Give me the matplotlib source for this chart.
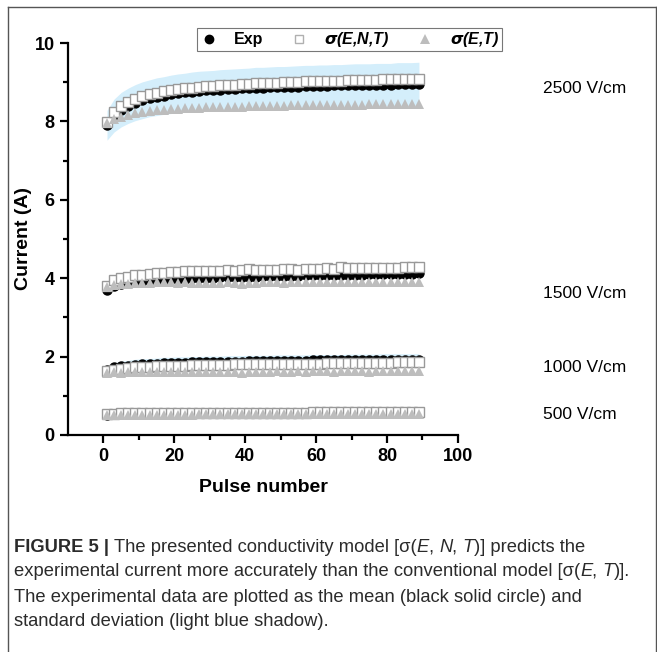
import numpy as np
import matplotlib.pyplot as plt
from matplotlib.lines import Line2D

# Pulse numbers (every second pulse is plotted)
pulses = np.arange(1, 90, 2)

# 2500 V/cm
exp_2500 = [7.90, 8.15, 8.30, 8.40, 8.48, 8.54, 8.59, 8.63, 8.66, 8.69, 8.72, 8.74, 8.76, 8.78, 8.79,
            8.80, 8.81, 8.82, 8.83, 8.84, 8.85, 8.86, 8.86, 8.87, 8.88, 8.88, 8.89, 8.89, 8.90, 8.90,
            8.91, 8.91, 8.92, 8.92, 8.92, 8.93, 8.93, 8.93, 8.94, 8.94, 8.94, 8.95, 8.95, 8.95, 8.96]
std_2500 = [0.38, 0.42, 0.44, 0.45, 0.46, 0.47, 0.47, 0.48, 0.48, 0.49, 0.49, 0.49, 0.50, 0.50, 0.50,
            0.50, 0.51, 0.51, 0.51, 0.51, 0.51, 0.52, 0.52, 0.52, 0.52, 0.52, 0.52, 0.53, 0.53, 0.53,
            0.53, 0.53, 0.53, 0.53, 0.54, 0.54, 0.54, 0.54, 0.54, 0.54, 0.54, 0.55, 0.55, 0.55, 0.55]
ent_2500 = [7.98, 8.25, 8.40, 8.50, 8.58, 8.64, 8.69, 8.73, 8.77, 8.80, 8.82, 8.84, 8.86, 8.88, 8.90,
            8.91, 8.92, 8.93, 8.94, 8.95, 8.96, 8.97, 8.98, 8.98, 8.99, 9.00, 9.00, 9.01, 9.02, 9.02,
            9.03, 9.03, 9.04, 9.04, 9.05, 9.05, 9.06, 9.06, 9.06, 9.07, 9.07, 9.08, 9.08, 9.08, 9.09]
et_2500 = [7.95, 8.05, 8.12, 8.17, 8.21, 8.24, 8.26, 8.28, 8.30, 8.31, 8.32, 8.33, 8.34, 8.35, 8.36,
           8.36, 8.37, 8.37, 8.38, 8.38, 8.39, 8.39, 8.39, 8.40, 8.40, 8.40, 8.41, 8.41, 8.41, 8.42,
           8.42, 8.42, 8.42, 8.43, 8.43, 8.43, 8.43, 8.44, 8.44, 8.44, 8.44, 8.45, 8.45, 8.45, 8.45]

# 1500 V/cm
exp_1500 = [3.70, 3.80, 3.85, 3.88, 3.90, 3.92, 3.93, 3.95, 3.96, 3.97, 3.98, 3.99, 4.00, 4.00, 4.01,
            4.01, 4.02, 4.02, 4.03, 4.03, 4.04, 4.04, 4.05, 4.05, 4.05, 4.06, 4.06, 4.06, 4.07, 4.07,
            4.07, 4.08, 4.08, 4.08, 4.09, 4.09, 4.09, 4.10, 4.10, 4.10, 4.10, 4.11, 4.11, 4.11, 4.12]
std_1500 = [0.07, 0.08, 0.08, 0.08, 0.09, 0.09, 0.09, 0.09, 0.09, 0.09, 0.09, 0.09, 0.09, 0.09, 0.09,
            0.09, 0.09, 0.09, 0.09, 0.09, 0.09, 0.09, 0.09, 0.09, 0.09, 0.09, 0.09, 0.09, 0.09, 0.09,
            0.09, 0.09, 0.09, 0.09, 0.09, 0.09, 0.09, 0.09, 0.09, 0.09, 0.09, 0.09, 0.09, 0.09, 0.09]
ent_1500 = [3.80, 3.95, 4.00, 4.04, 4.07, 4.09, 4.10, 4.12, 4.14, 4.15, 4.16, 4.17, 4.17, 4.18, 4.18,
            4.19, 4.19, 4.20, 4.19, 4.21, 4.24, 4.20, 4.21, 4.22, 4.22, 4.23, 4.23, 4.22, 4.23, 4.24,
            4.24, 4.25, 4.24, 4.28, 4.25, 4.25, 4.26, 4.26, 4.26, 4.27, 4.27, 4.27, 4.28, 4.28, 4.28]
et_1500 = [3.78, 3.82, 3.85, 3.86, 3.87, 3.88, 3.88, 3.89, 3.89, 3.89, 3.88, 3.89, 3.88, 3.87, 3.88,
           3.88, 3.88, 3.89, 3.88, 3.84, 3.87, 3.88, 3.89, 3.89, 3.89, 3.88, 3.89, 3.89, 3.89, 3.90,
           3.89, 3.90, 3.90, 3.90, 3.89, 3.90, 3.90, 3.90, 3.90, 3.91, 3.90, 3.91, 3.91, 3.90, 3.90]

# 1000 V/cm
exp_1000 = [1.65, 1.72, 1.75, 1.77, 1.79, 1.80, 1.81, 1.82, 1.83, 1.83, 1.84, 1.84, 1.85, 1.85, 1.86,
            1.86, 1.86, 1.87, 1.87, 1.87, 1.88, 1.88, 1.88, 1.88, 1.89, 1.89, 1.89, 1.89, 1.89, 1.90,
            1.90, 1.90, 1.90, 1.90, 1.91, 1.91, 1.91, 1.91, 1.91, 1.92, 1.92, 1.92, 1.92, 1.92, 1.92]
std_1000 = [0.10, 0.12, 0.13, 0.13, 0.14, 0.14, 0.14, 0.14, 0.15, 0.15, 0.15, 0.15, 0.15, 0.15, 0.15,
            0.15, 0.15, 0.15, 0.15, 0.15, 0.15, 0.15, 0.15, 0.15, 0.15, 0.15, 0.15, 0.15, 0.15, 0.15,
            0.15, 0.15, 0.15, 0.15, 0.15, 0.15, 0.15, 0.15, 0.15, 0.15, 0.15, 0.15, 0.15, 0.15, 0.15]
ent_1000 = [1.62, 1.66, 1.69, 1.71, 1.72, 1.73, 1.74, 1.75, 1.76, 1.76, 1.77, 1.77, 1.78, 1.78, 1.78,
            1.79, 1.79, 1.79, 1.80, 1.80, 1.80, 1.80, 1.81, 1.81, 1.81, 1.81, 1.82, 1.82, 1.82, 1.82,
            1.82, 1.83, 1.83, 1.83, 1.83, 1.83, 1.84, 1.84, 1.84, 1.84, 1.84, 1.85, 1.85, 1.85, 1.85]
et_1000 = [1.57, 1.60, 1.59, 1.60, 1.60, 1.61, 1.60, 1.61, 1.61, 1.60, 1.61, 1.61, 1.61, 1.61, 1.60,
           1.61, 1.61, 1.61, 1.60, 1.59, 1.61, 1.61, 1.61, 1.61, 1.62, 1.61, 1.61, 1.62, 1.61, 1.62,
           1.62, 1.62, 1.61, 1.62, 1.62, 1.62, 1.62, 1.61, 1.62, 1.62, 1.62, 1.62, 1.62, 1.62, 1.62]

# 500 V/cm
exp_500 = [0.52, 0.53, 0.54, 0.54, 0.55, 0.55, 0.55, 0.55, 0.55, 0.56, 0.56, 0.56, 0.56, 0.56, 0.56,
           0.56, 0.56, 0.56, 0.56, 0.56, 0.57, 0.57, 0.57, 0.57, 0.57, 0.57, 0.57, 0.57, 0.57, 0.57,
           0.57, 0.57, 0.57, 0.57, 0.57, 0.57, 0.57, 0.57, 0.57, 0.57, 0.57, 0.57, 0.57, 0.57, 0.57]
std_500 = [0.03] * 45
ent_500 = [0.53, 0.54, 0.55, 0.55, 0.55, 0.56, 0.56, 0.56, 0.56, 0.56, 0.56, 0.56, 0.57, 0.57, 0.57,
           0.57, 0.57, 0.57, 0.57, 0.57, 0.57, 0.57, 0.57, 0.57, 0.57, 0.57, 0.57, 0.57, 0.57, 0.58,
           0.58, 0.58, 0.58, 0.58, 0.58, 0.58, 0.58, 0.58, 0.58, 0.58, 0.58, 0.58, 0.58, 0.58, 0.58]
et_500 = [0.50, 0.51, 0.51, 0.52, 0.52, 0.52, 0.52, 0.52, 0.52, 0.52, 0.52, 0.52, 0.52, 0.53, 0.53,
          0.53, 0.53, 0.53, 0.53, 0.53, 0.53, 0.53, 0.53, 0.53, 0.53, 0.53, 0.53, 0.53, 0.53, 0.53,
          0.53, 0.53, 0.53, 0.53, 0.53, 0.53, 0.53, 0.53, 0.53, 0.53, 0.53, 0.53, 0.53, 0.53, 0.53]

fields = ['2500 V/cm', '1500 V/cm', '1000 V/cm', '500 V/cm']
exp_all = [exp_2500, exp_1500, exp_1000, exp_500]
std_all = [std_2500, std_1500, std_1000, std_500]
ent_all = [ent_2500, ent_1500, ent_1000, ent_500]
et_all = [et_2500, et_1500, et_1000, et_500]
label_y = [8.85, 3.62, 1.71, 0.51]

plt.rcParams['font.family'] = ['Liberation Sans', 'DejaVu Sans']
plt.rcParams['mathtext.default'] = 'bfit'

fig = plt.figure(figsize=(6.57, 6.52), dpi=100)
ax = fig.add_axes([0.1035, 0.333, 0.5935, 0.601])

grey = '#bdbdbd'
for ex, sd, en, et in zip(exp_all, std_all, ent_all, et_all):
    ex = np.array(ex)
    sd = np.array(sd)
    ax.fill_between(pulses, ex - sd, ex + sd, color='#d4eefb', lw=0, zorder=1)
    ax.plot(pulses, ex, 'o', color='black', ms=6.5, zorder=2)
    ax.plot(pulses, en, 's', mfc='white', mec='#999999', mew=1, ms=7.5, zorder=3)
    ax.plot(pulses, et, '^', color=grey, ms=7.5, mew=0, zorder=4)

for name, yy in zip(fields, label_y):
    ax.text(124, yy, name, fontsize=12.5, ha='left', va='center', clip_on=False)

ax.set_xlim(-10, 100)
ax.set_ylim(0, 10)
ax.set_xticks([0, 20, 40, 60, 80, 100])
ax.set_xticks([10, 30, 50, 70, 90], minor=True)
ax.set_yticks([0, 2, 4, 6, 8, 10])
ax.set_yticks([1, 3, 5, 7, 9], minor=True)
for s in ['top', 'right']:
    ax.spines[s].set_visible(False)
for s in ['left', 'bottom']:
    ax.spines[s].set_linewidth(1.6)
ax.tick_params(which='major', length=6, width=1.6, labelsize=13)
ax.tick_params(which='minor', length=3.5, width=1.6)
for lab in ax.get_xticklabels() + ax.get_yticklabels():
    lab.set_fontweight('bold')
ax.set_xlabel('Pulse number', fontsize=14, fontweight='bold', labelpad=10)
ax.set_ylabel('Current (A)', fontsize=14, fontweight='bold', labelpad=2)

handles = [
    Line2D([], [], ls='', marker='o', color='black', ms=6),
    Line2D([], [], ls='', marker='s', mfc='white', mec='#b0b0b0', mew=1, ms=6),
    Line2D([], [], ls='', marker='^', color=grey, mew=0, ms=7),
]
leg = fig.legend(handles, ['Exp', r'$\sigma$(E,N,T)', r'$\sigma$(E,T)'],
                 loc='center', bbox_to_anchor=(0.532, 0.939), ncol=3,
                 frameon=True, fancybox=False, edgecolor='#555555', handlelength=1.2,
                 handletextpad=1.0, columnspacing=1.6, borderpad=0.12,
                 prop={'weight': 'bold', 'size': 11.5})
leg.get_frame().set_linewidth(0.8)
for t in leg.get_texts()[1:]:
    t.set_fontstyle('italic')

# outer panel border
for xs, ys in [([0.012, 0.012], [0.0, 0.99]), ([0.012, 0.998], [0.99, 0.99]), ([0.998, 0.998], [0.0, 0.99])]:
    fig.add_artist(Line2D(xs, ys, color='#555555', lw=1, transform=fig.transFigure))

# caption, drawn piece by piece for mixed styles
cap = fig.add_axes([0, 0, 1, 1])
cap.set_axis_off()
cap.set_zorder(-1)
cap_lines = [
    [('FIGURE 5 | ', 'bold'), ('The presented conductivity model [σ(', 'normal'), ('E', 'italic'),
     (', ', 'normal'), ('N', 'italic'), (', ', 'normal'), ('T', 'italic'), (')] predicts the', 'normal')],
    [('experimental current more accurately than the conventional model [σ(', 'normal'), ('E', 'italic'),
     (', ', 'normal'), ('T', 'italic'), (')].', 'normal')],
    [('The experimental data are plotted as the mean (black solid circle) and', 'normal')],
    [('standard deviation (light blue shadow).', 'normal')],
]
line_y = [548, 572, 597, 621]
for segs, py in zip(cap_lines, line_y):
    prev = None
    for txt, style in segs:
        kw = dict(fontsize=13.2, color='#2b2b2b', va='center', ha='left')
        if style == 'bold':
            kw['fontweight'] = 'bold'
        if style == 'italic':
            kw['fontstyle'] = 'italic'
        if prev is None:
            prev = cap.text(14 / 657, 1 - py / 652, txt, transform=cap.transAxes, **kw)
        else:
            prev = cap.annotate(txt, xy=(1, 0.5), xycoords=prev, **kw)

fig.savefig('out.png', dpi=100)
